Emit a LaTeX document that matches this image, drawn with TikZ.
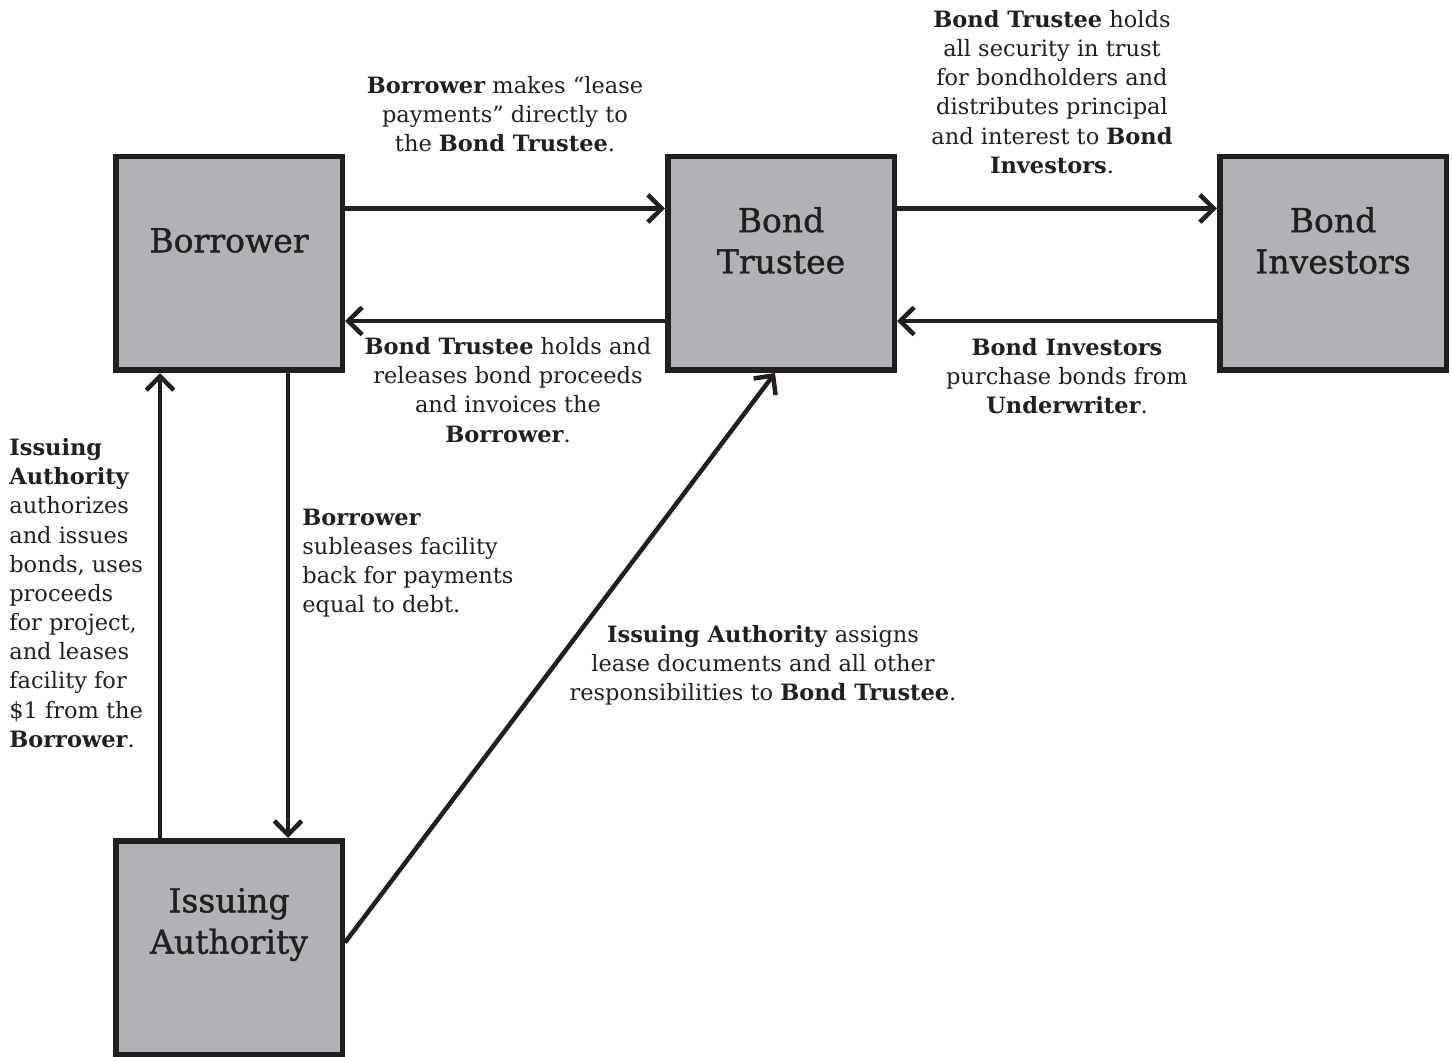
\documentclass[tikz,border=0pt]{standalone}
\usepackage{fontspec}
\setmainfont{DejaVu Serif}
\newfontfamily\boxfont[FakeBold=1.2]{DejaVu Serif}
\usepackage{xcolor}
\usetikzlibrary{
arrows.meta,
positioning
}
\definecolor{boxgray}{HTML}{B1B2B6}
\definecolor{ink}{HTML}{231F20}
\tikzset{
  box/.style={draw=ink, fill=boxgray, line width=1.1mm,
    minimum width=4.53cm, minimum height=4.27cm, inner sep=0pt},
  boxlabel/.style={align=center, text=ink, yshift=4.6mm,
    font=\boxfont\fontsize{18.8}{23.5}\selectfont},
  note/.style={text=ink, inner sep=0pt, font=\fontsize{12.8}{16.6}\selectfont},
  flow/.style={draw=ink, line width=0.9mm,
    -{Straight Barb[length=2.8mm,width=5.5mm]}}
}

\begin{document}
\begin{tikzpicture}
    \useasboundingbox (0,0) rectangle (29.04,-21.14);

    \node[box, label={[boxlabel,name=borrowerT]center:Borrower}] (borrower) at (4.58,-5.27) {};
    \node[box, right = 6.4cm of borrower, label={[boxlabel,name=trusteeT]center:Bond\\Trustee}] (trustee) {};
    \node[box, right = 6.4cm of trustee, label={[boxlabel,name=investorsT]center:Bond\\Investors}] (investors) {};
    \node[box, below = 9.3cm of borrower, label={[boxlabel,name=issuingT]center:Issuing\\Authority}] (issuing) {};

    \draw[flow] ([yshift=11mm]borrower.east) -- ([yshift=11mm]trustee.west);
    \draw[flow] ([yshift=-11.5mm]trustee.west) -- ([yshift=-11.5mm]borrower.east);
    \draw[flow] ([yshift=11mm]trustee.east) -- ([yshift=11mm]investors.west);
    \draw[flow] ([yshift=-11.5mm]investors.west) -- ([yshift=-11.5mm]trustee.east);
    \draw[flow] ([xshift=-13.8mm]issuing.north) -- ([xshift=-13.8mm]borrower.south);
    \draw[flow] ([xshift=11.8mm]borrower.south) -- ([xshift=11.8mm]issuing.north);
    \draw[flow] ([yshift=1mm]issuing.east) -- ([xshift=-1.2mm]trustee.south);

    % texts
    \node[note, align=center] (leasepay) at (10.1,-2.28)
      {\textbf{Borrower} makes “lease\\payments” directly to\\the \textbf{Bond Trustee}.};
    \node[note, align=center] (holdtrust) at (21.04,-1.84)
      {\textbf{Bond Trustee} holds\\all security in trust\\for bondholders and\\distributes principal\\and interest to \textbf{Bond}\\\textbf{Investors}.};
    \node[note, align=center] (invoice) at (10.16,-7.8)
      {\textbf{Bond Trustee} holds and\\releases bond proceeds\\and invoices the\\\textbf{Borrower}.};
    \node[note, align=center] (purchase) at (21.34,-7.52)
      {\textbf{Bond Investors}\\purchase bonds from\\\textbf{Underwriter}.};
    \node[note, align=left, anchor=west] (authorize) at (0.18,-11.86)
      {\textbf{Issuing}\\\textbf{Authority}\\authorizes\\and issues\\bonds, uses\\proceeds\\for project,\\and leases\\facility for\\\$1 from the\\\textbf{Borrower}.};
    \node[note, align=left, anchor=west] (sublease) at (6.04,-11.26)
      {\textbf{Borrower}\\subleases facility\\back for payments\\equal to debt.};
    \node[note, align=center] (assign) at (15.26,-13.3)
      {\textbf{Issuing Authority} assigns\\lease documents and all other\\responsibilities to \textbf{Bond Trustee}.};
\end{tikzpicture}
\end{document}
